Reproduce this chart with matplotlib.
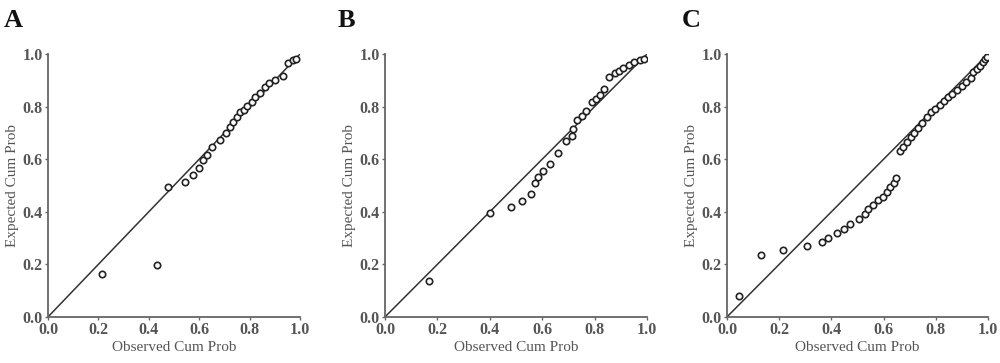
import matplotlib
matplotlib.use("Agg")
import matplotlib.pyplot as plt

plt.rcParams['font.family'] = ['Liberation Serif', 'DejaVu Serif']

# Panel A
a_obs = [0.213, 0.431, 0.478, 0.544, 0.577, 0.600, 0.617, 0.630, 0.652, 0.683, 0.706,
         0.722, 0.735, 0.751, 0.762, 0.779, 0.790, 0.808, 0.821, 0.841, 0.861, 0.877,
         0.900, 0.934, 0.954, 0.973, 0.985]
a_exp = [0.163, 0.198, 0.495, 0.514, 0.540, 0.565, 0.597, 0.616, 0.648, 0.673, 0.698,
         0.721, 0.743, 0.762, 0.780, 0.787, 0.802, 0.819, 0.838, 0.853, 0.876, 0.889,
         0.900, 0.916, 0.965, 0.977, 0.983]

# Panel B
b_obs = [0.169, 0.400, 0.481, 0.524, 0.557, 0.573, 0.585, 0.604, 0.630, 0.662, 0.691,
         0.714, 0.719, 0.734, 0.751, 0.767, 0.789, 0.805, 0.821, 0.836, 0.856, 0.878,
         0.895, 0.910, 0.930, 0.952, 0.972, 0.987]
b_exp = [0.137, 0.394, 0.417, 0.441, 0.466, 0.511, 0.534, 0.556, 0.580, 0.625, 0.669,
         0.689, 0.714, 0.749, 0.764, 0.783, 0.819, 0.828, 0.844, 0.866, 0.914, 0.927,
         0.936, 0.946, 0.959, 0.968, 0.976, 0.983]

# Panel C
c_obs = [0.046, 0.130, 0.216, 0.305, 0.365, 0.386, 0.420, 0.450, 0.471, 0.506, 0.527,
         0.541, 0.560, 0.580, 0.599, 0.612, 0.625, 0.638, 0.648,
         0.663, 0.676, 0.689, 0.704, 0.716, 0.733, 0.748, 0.765, 0.781, 0.797, 0.816,
         0.831, 0.848, 0.863, 0.880, 0.899, 0.916, 0.934, 0.944, 0.957, 0.970, 0.980,
         0.989, 0.995]
c_exp = [0.079, 0.237, 0.253, 0.268, 0.285, 0.302, 0.320, 0.335, 0.354, 0.373, 0.392,
         0.411, 0.427, 0.443, 0.458, 0.475, 0.493, 0.508, 0.530,
         0.630, 0.648, 0.667, 0.686, 0.701, 0.718, 0.737, 0.760, 0.779, 0.792, 0.805,
         0.823, 0.838, 0.850, 0.863, 0.880, 0.892, 0.908, 0.930, 0.943, 0.955, 0.968,
         0.980, 0.988]

panels = [("A", a_obs, a_exp), ("B", b_obs, b_exp), ("C", c_obs, c_exp)]
ticks = [0.0, 0.2, 0.4, 0.6, 0.8, 1.0]
tick_labels = ["0.0", "0.2", "0.4", "0.6", "0.8", "1.0"]

fig = plt.figure(figsize=(10, 3.63), dpi=100)
axes_pos = [[0.048, 0.127, 0.252, 0.724],
            [0.385, 0.127, 0.262, 0.724],
            [0.727, 0.127, 0.261, 0.724]]
letter_x = [0.004, 0.338, 0.682]

for (letter, obs, exp), pos, lx in zip(panels, axes_pos, letter_x):
    ax = fig.add_axes(pos)
    ax.plot([0, 1], [0, 1], color='#333333', lw=1.1, zorder=1)
    ax.plot(obs, exp, linestyle='none', marker='o', markersize=4.6,
            markerfacecolor='white', markeredgecolor='#222222', markeredgewidth=1.2, zorder=2)
    ax.set_xlim(0, 1)
    ax.set_ylim(0, 1)
    ax.set_xticks(ticks)
    ax.set_yticks(ticks)
    ax.set_xticklabels(tick_labels, fontsize=11.5, fontweight='bold', color='#555555')
    ax.set_yticklabels(tick_labels, fontsize=11.5, fontweight='bold', color='#555555')
    for s in ['top', 'right']:
        ax.spines[s].set_visible(False)
    for s in ['left', 'bottom']:
        ax.spines[s].set_color('#666666')
        ax.spines[s].set_linewidth(1.3)
    ax.tick_params(direction='out', length=2.5, width=1, color='#666666', pad=1.5)
    ax.set_xlabel("Observed Cum Prob", fontsize=11, color='#555555', labelpad=2)
    ax.set_ylabel("Expected Cum Prob", fontsize=11, color='#555555', labelpad=2)
    ax.patch.set_alpha(0)
    fig.text(lx, 0.975, letter, fontsize=19, fontweight='bold', va='top', ha='left', color='#111111')

fig.savefig("out.png", dpi=100)
